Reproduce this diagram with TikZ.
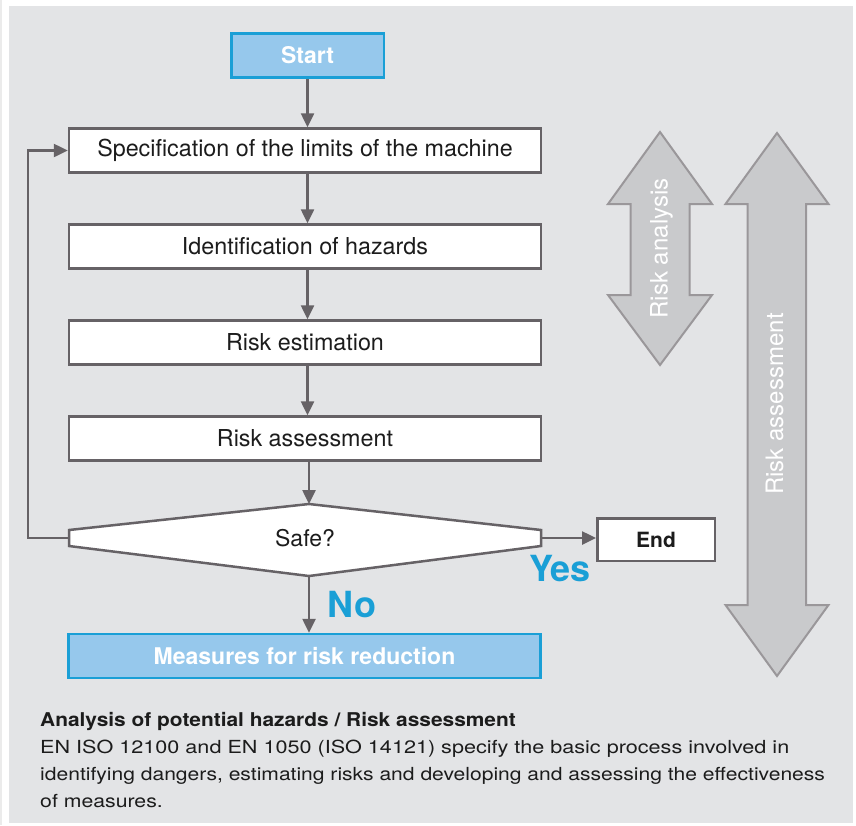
\documentclass[tikz,border=0pt]{standalone}
\usepackage{fontspec}
\setmainfont{TeX Gyre Heros}
\usetikzlibrary{arrows.meta}
\definecolor{panel}{HTML}{E3E4E6}
\definecolor{linec}{HTML}{666266}
\definecolor{bluefill}{HTML}{96C8EC}
\definecolor{blueline}{HTML}{1A9FD6}
\definecolor{arrfill}{HTML}{C9CACC}
\definecolor{arrline}{HTML}{9A979A}
\definecolor{txt}{HTML}{1C1C1C}
\newcommand{\widetext}[2]{\scalebox{#1}[1]{#2}}
\tikzset{
 box/.style={draw=linec, line width=2.5pt, fill=white, minimum width=472pt, minimum height=44pt, inner sep=0pt, font=\fontsize{23.3}{27}\selectfont, text=txt},
 bluebox/.style={draw=blueline, line width=2.5pt, fill=bluefill, inner sep=0pt, text=white, font=\fontsize{23}{27}\selectfont\bfseries},
 conn/.style={draw=linec, line width=2.5pt, -{Triangle[length=14pt,width=13pt]}},
 bigarrow/.style={fill=arrfill, draw=arrline, line width=2pt, line join=miter},
 arrlabel/.style={text=white, font=\fontsize{24}{28}\selectfont, rotate=90, inner sep=0pt},
 answer/.style={text=blueline, font=\fontsize{36}{40}\selectfont\bfseries, inner sep=0pt},
 note/.style={anchor=base west, inner sep=0pt, font=\fontsize{18}{21}\selectfont, text=txt}
}
\begin{document}
\begin{tikzpicture}[x=1pt,y=-1pt]
\fill[white] (0,0) rectangle (856,825);
\useasboundingbox (0,0) rectangle (856,825);
\draw[black!8, line width=1.5pt] (1,0) -- (1,825);
\fill[panel] (9,6) rectangle (853,823);

% big arrows
\draw[bigarrow] (660,132) -- (712,204) -- (689.5,204) -- (689.5,295) -- (712,295) -- (660,365) -- (608,295) -- (630.5,295) -- (630.5,204) -- (608,204) -- cycle;
\draw[bigarrow] (777,133) -- (828.5,204) -- (806,204) -- (806,605) -- (828.5,605) -- (777,676) -- (725.5,605) -- (747.5,605) -- (747.5,204) -- (725.5,204) -- cycle;
\node[arrlabel] (ra) at (661.5,248.5) {Risk analysis};
\node[arrlabel] (rass) at (774.5,404) {Risk assessment};

% flow
\node[bluebox, minimum width=152.5pt, minimum height=44pt] (start) at (307.5,55.5) {Start};
\node[box] (spec) at (305,150.5) {Specification of the limits of the machine};
\node[box] (ident) at (305,246.5) {Identification of hazards};
\node[box] (est) at (305,342.5) {Risk estimation};
\node[box] (assess) at (305,438.5) {Risk assessment};

\coordinate (dT) at (309,504);
\coordinate (dB) at (309,576);
\coordinate (dL) at (69,538);
\coordinate (dR) at (541,538);
\draw[linec, line width=2.5pt, fill=white, line join=miter] (69,530) -- (dT) -- (541,530) -- (541,546) -- (dB) -- (69,546) -- cycle;
\node[font=\fontsize{23}{27}\selectfont, text=txt, inner sep=0pt] (safe) at (305,538) {Safe?};

\node[box, minimum width=117.5pt, minimum height=42.5pt, font=\fontsize{21}{25}\selectfont\bfseries] (endn) at (656,539.5) {End};
\node[bluebox, minimum width=472pt, minimum height=44pt] (meas) at (304.5,656) {Measures for risk reduction};

\node[answer] (yes) at (560,568.5) {Yes};
\node[answer] (no) at (352,605) {No};

\draw[conn] (start.south) -- (start.south |- spec.north);
\draw[conn] (start.south |- spec.south) -- (start.south |- ident.north);
\draw[conn] (start.south |- ident.south) -- (start.south |- est.north);
\draw[conn] (start.south |- est.south) -- (start.south |- assess.north);
\draw[conn] (dT |- assess.south) -- (dT);
\draw[conn] (dB) -- (dB |- meas.north);
\draw[conn] (dR) -- (dR -| endn.west);
\coordinate (loop) at (28,538);
\draw[conn] (dL) -- (loop) |- (spec.west);

% notes
\node[note, font=\fontsize{19}{22}\selectfont\bfseries] (n1) at (40,726) {\widetext{1.1}{Analysis of potential hazards / Risk assessment}};
\node[note] (n2) at (40,753) {\widetext{1.2}{EN ISO 12100 and EN 1050 (ISO 14121) specify the basic process involved in}};
\node[note] (n3) at (40,780) {\widetext{1.17}{identifying dangers, estimating risks and developing and assessing the effectiveness}};
\node[note] (n4) at (40,807) {\widetext{1.18}{of measures.}};
\end{tikzpicture}
\end{document}
